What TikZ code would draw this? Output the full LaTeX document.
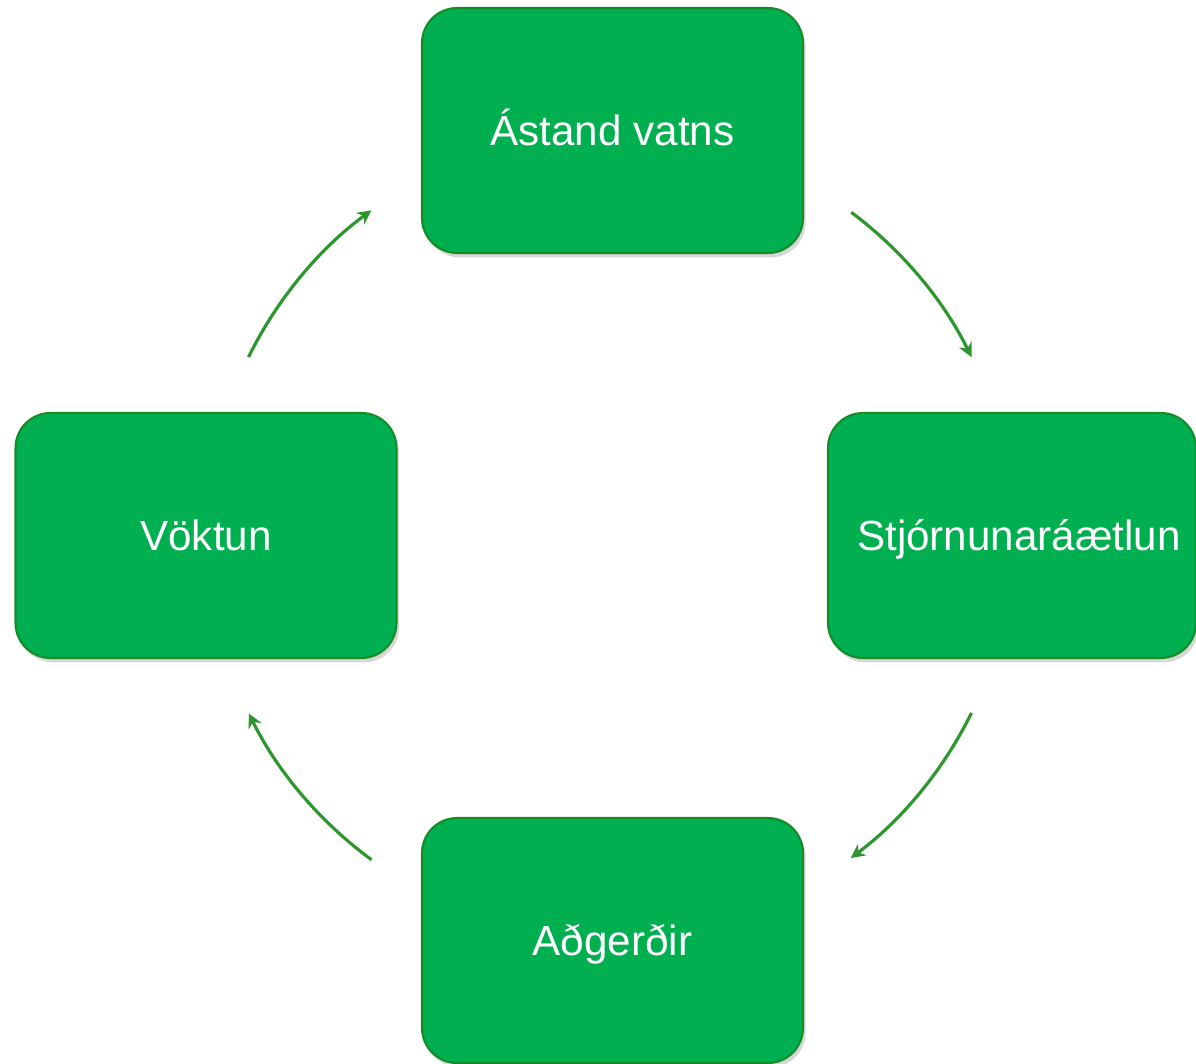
\documentclass[tikz,border=0pt]{standalone}
\usepackage{fontspec}
\setmainfont{Liberation Sans}
\usetikzlibrary{arrows.meta,calc,shadows}
\definecolor{boxgreen}{RGB}{0,176,80}
\definecolor{boxedge}{RGB}{20,140,40}
\definecolor{arrowgreen}{RGB}{45,150,45}
\begin{document}
\begin{tikzpicture}[x=0.02cm,y=0.02cm,
  stagebox/.style={draw=boxedge, line width=1.2pt, fill=boxgreen, rounded corners=0.7cm,
    minimum width=7.62cm, minimum height=4.9cm, text=white, inner sep=0pt,
    text height=19pt, text depth=2pt,
    font=\fontsize{24}{28}\selectfont,
    drop shadow={shadow xshift=1.5pt, shadow yshift=-2.5pt, fill=black!45, opacity=0.35}},
  cyclearrow/.style={draw=arrowgreen, line width=1.8pt, -{Stealth[length=8pt,width=8pt]}}]
\useasboundingbox (0,0) rectangle (1196,1063);
\begin{scope}
\clip (0,0) rectangle (1196,1063);
\node[stagebox] (top) at (612.5,932.5) {Ástand vatns};
\node[stagebox] (left) at (206,527.5) {Vöktun};
\node[stagebox, minimum width=7.36cm] (right) at (1012,527.5) {\hspace{8pt}Stjórnunaráætlun};
\node[stagebox] (bottom) at (612.5,122.5) {Aðgerðir};
\end{scope}
\coordinate (c) at (610,528);
\coordinate (a1) at ($(c)+(153.8:8.06cm)$);
\coordinate (a2) at ($(c)+(53.2:8.06cm)$);
\coordinate (a3) at ($(c)+(-26.2:8.06cm)$);
\coordinate (a4) at ($(c)+(-126.3:8.06cm)$);
\draw[cyclearrow] (a1) arc[start angle=153.8, end angle=126.3, radius=8.06cm];
\draw[cyclearrow] (a2) arc[start angle=53.2, end angle=26.2, radius=8.06cm];
\draw[cyclearrow] (a3) arc[start angle=-26.2, end angle=-53.3, radius=8.06cm];
\draw[cyclearrow] (a4) arc[start angle=-126.3, end angle=-153.7, radius=8.06cm];
\end{tikzpicture}
\end{document}
